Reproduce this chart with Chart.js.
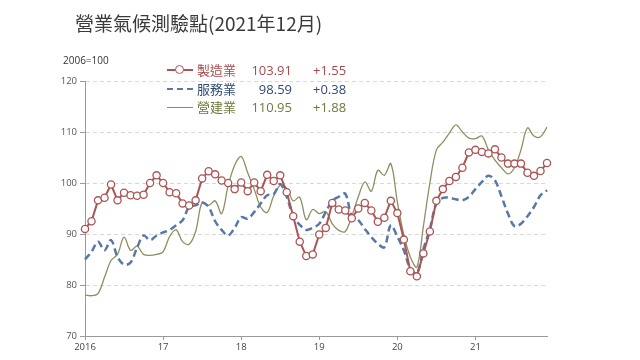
<!DOCTYPE html>
<html>
<head>
<meta charset="utf-8">
<script src="https://cdn.jsdelivr.net/npm/chart.js@4/dist/chart.umd.min.js"></script>
<style>
  html, body { margin: 0; padding: 0; background: #fff; }
  #wrap { position: relative; width: 640px; height: 360px; overflow: hidden; }
  canvas { position: absolute; left: 0; top: 0; }
  .t { position: absolute; white-space: nowrap; font-family: "Noto Sans CJK TC", "Noto Sans", sans-serif; }
  #title { left: 75px; top: 9px; font-size: 19px; color: #3a3a3a; line-height: 28px; }
  #base { left: 63px; top: 53px; font-size: 10px; color: #333; line-height: 14px; font-family: "Open Sans", "Noto Sans", sans-serif; }
  .row { position: absolute; left: 167px; height: 18px; width: 200px; font-size: 13px; line-height: 18px; }
  .sym { position: absolute; left: 0; top: 8px; width: 26px; height: 0; }
  .name { position: absolute; left: 30px; top: 0; }
  .val { position: absolute; right: 75px; top: 0; text-align: right; font-family: "Open Sans", "Noto Sans", sans-serif; }
  .chg { position: absolute; left: 146px; top: 0; font-family: "Open Sans", "Noto Sans", sans-serif; }
</style>
</head>
<body>
<div id="wrap">
  <canvas id="c" width="640" height="360"></canvas>
  <div id="title" class="t">營業氣候測驗點(2021年12月)</div>
  <div id="base" class="t">2006=100</div>
  <div id="legend"></div>
</div>
<script>
// ---- data ----
const years = ['2016', '17', '18', '19', '20', '21'];
const seriesNames = ['製造業', '服務業', '營建業'];
const latestValues = ['103.91', '98.59', '110.95'];
const latestChanges = ['+1.55', '+0.38', '+1.88'];

const manufacturing = [
  91.0, 92.5, 96.6, 97.1, 99.7, 96.6, 98.1, 97.6, 97.5, 97.7, 100.0, 101.5,
  100.0, 98.2, 98.0, 96.0, 95.6, 96.6, 100.9, 102.3, 101.7, 100.5, 100.0, 98.8,
  100.1, 98.4, 100.1, 98.4, 101.6, 100.4, 101.5, 98.2, 93.5, 88.5, 85.7, 86.0,
  89.9, 91.2, 96.1, 94.8, 94.6, 93.1, 95.0, 96.1, 94.6, 92.4, 93.2, 96.5,
  94.1, 88.9, 82.7, 81.7, 86.2, 90.5, 96.5, 98.8, 100.4, 101.2, 103.0, 106.0,
  106.5, 106.1, 105.8, 106.6, 105.0, 103.8, 103.8, 103.8, 102.0, 101.4, 102.36, 103.91
];
const services = [
  85.0, 86.5, 88.5, 86.8, 88.8, 85.5, 84.0, 84.4, 87.3, 89.7, 88.8, 89.7,
  90.3, 90.8, 91.7, 92.7, 95.3, 95.6, 96.2, 95.3, 92.5, 90.8, 89.7, 91.2,
  93.3, 93.0, 94.3, 96.0, 97.6, 97.8, 99.8, 97.3, 93.5, 91.8, 90.8, 91.2,
  92.0, 94.3, 96.5, 97.3, 97.9, 93.5, 92.7, 91.0, 89.4, 88.1, 87.4, 91.7,
  89.5, 86.8, 83.2, 82.3, 87.0, 91.0, 96.0, 97.1, 97.1, 96.8, 96.6, 97.3,
  98.8, 100.2, 101.4, 100.5, 97.4, 94.0, 91.5, 92.0, 93.5, 95.3, 97.6, 98.59
];
const construction = [
  78.0, 77.9, 78.3, 81.5, 84.8, 86.0, 89.4, 86.8, 87.6, 86.0, 85.8, 86.0,
  86.5, 89.5, 90.8, 88.5, 88.0, 90.5, 96.2, 95.6, 96.5, 94.0, 99.5, 103.5,
  105.2, 102.0, 98.8, 95.3, 94.2, 97.5, 99.5, 99.0, 96.5, 97.2, 92.8, 94.8,
  94.0, 94.4, 92.0, 90.7, 90.5, 93.5, 97.3, 100.2, 98.4, 102.5, 101.5, 103.8,
  96.3, 89.8, 85.5, 83.5, 91.5, 100.0, 106.5, 108.0, 109.8, 111.4, 110.0, 108.8,
  108.7, 109.2, 106.5, 104.5, 103.0, 101.8, 103.0, 106.5, 110.8, 109.2, 109.07, 110.95
];

// ---- colours / styles ----
const colors = ['#ac5454', '#5878a8', '#8d8f62'];
const textColors = ['#a84a4a', '#2f4a78', '#6f7a3c'];

// monthly categories
const categories = [];
years.forEach(y => { for (let m = 1; m <= 12; m++) categories.push(y + '-' + m); });

// legend (HTML text)
const legend = document.getElementById('legend');
const rowTops = [61, 80, 98];
seriesNames.forEach((n, i) => {
  const row = document.createElement('div');
  row.className = 'row t';
  row.style.top = rowTops[i] + 'px';
  row.style.color = textColors[i];
  let sym;
  if (i === 0) {
    sym = `<div class="sym" style="border-top:2px solid ${colors[0]};top:8px"></div>
           <div style="position:absolute;left:8px;top:4px;width:7px;height:7px;border:1.5px solid ${colors[0]};border-radius:50%;background:#fff"></div>`;
  } else if (i === 1) {
    sym = `<div class="sym" style="border-top:2px dashed ${colors[1]};top:8px"></div>`;
  } else {
    sym = `<div class="sym" style="border-top:1.3px solid ${colors[2]};top:9px"></div>`;
  }
  row.innerHTML = sym + `<span class="name">${n}</span><span class="val">${latestValues[i]}</span><span class="chg">${latestChanges[i]}</span>`;
  legend.appendChild(row);
});

new Chart(document.getElementById('c'), {
  type: 'line',
  data: {
    labels: categories,
    datasets: [
      {
        label: seriesNames[0], data: manufacturing, order: 1,
        borderColor: colors[0], borderWidth: 2, tension: 0,
        pointRadius: 3.6, pointBorderWidth: 1.3, pointBackgroundColor: '#fff', pointBorderColor: colors[0]
      },
      {
        label: seriesNames[1], data: services, order: 2,
        borderColor: colors[1], borderWidth: 2.5, borderDash: [7, 4], tension: 0.35,
        pointRadius: 0
      },
      {
        label: seriesNames[2], data: construction, order: 3,
        borderColor: colors[2], borderWidth: 1.3, tension: 0.35,
        pointRadius: 0
      }
    ]
  },
  options: {
    responsive: false,
    animation: false,
    layout: { padding: { left: 0, right: 93, top: 81, bottom: 0 } },
    plugins: { legend: { display: false }, title: { display: false }, tooltip: { enabled: false } },
    scales: {
      x: {
        type: 'category',
        offset: false,
        afterFit: s => { s.height = 24; },
        border: { display: true, color: '#9a9a9a', width: 1 },
        grid: {
          display: true, drawOnChartArea: false, drawTicks: true, tickLength: 4,
          tickColor: ctx => (ctx.index % 12 === 0 ? '#9a9a9a' : 'rgba(0,0,0,0)')
        },
        ticks: {
          autoSkip: false, maxRotation: 0, padding: 2,
          color: '#444', font: { family: 'Open Sans, Noto Sans, sans-serif', size: 9.5 },
          callback: (v, i) => (i % 12 === 0 ? years[i / 12] : '')
        }
      },
      y: {
        min: 70, max: 120,
        afterFit: s => { s.width = 85; },
        border: { display: true, color: '#9a9a9a', width: 1, dash: [4, 3] },
        grid: {
          color: '#d8d8d8', lineWidth: 1, drawTicks: true, tickLength: 5,
          tickColor: '#9a9a9a', tickBorderDash: []
        },
        ticks: {
          stepSize: 10, padding: 3, color: '#555',
          font: { family: 'Open Sans, Noto Sans, sans-serif', size: 9.5 }
        }
      }
    }
  }
});
</script>
</body>
</html>
